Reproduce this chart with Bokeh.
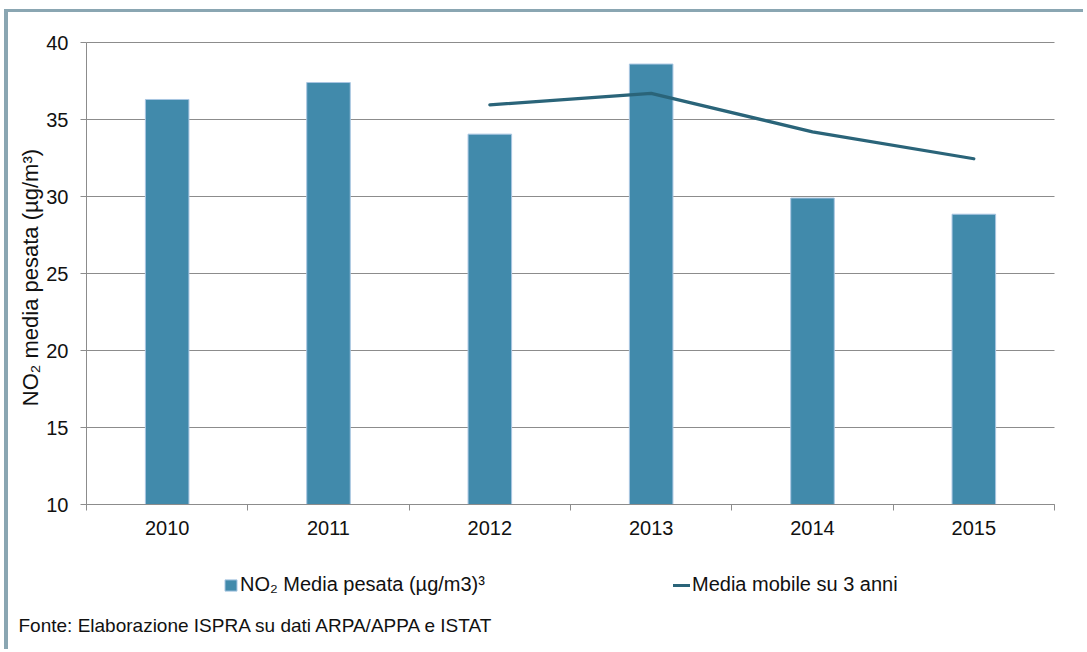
import math
from bokeh.plotting import figure
from bokeh.models import Range1d, FixedTicker, Legend, LegendItem, Label
from bokeh.embed import file_html
from bokeh.resources import INLINE

# ---- data ----
years = ["2010", "2011", "2012", "2013", "2014", "2015"]
no2_media = [36.3, 37.4, 34.05, 38.6, 29.9, 28.85]
media_mobile = [None, None, 35.95, 36.7, 34.2, 32.45]
y_ticks = [10, 15, 20, 25, 30, 35, 40]

bar_label = "NO\u2082 Media pesata (\u00b5g/m3)\u00b3"
line_label = "Media mobile su 3 anni"
y_label = "NO\u2082 media pesata  (\u00b5g/m\u00b3)"
footer = "Fonte: Elaborazione ISPRA su dati ARPA/APPA e ISTAT"

# ---- layout (canvas pixels) ----
W, H = 1079, 640
PL, PR, PT, PB = 78, 1046, 30, 492       # plot area edges on the canvas

n = len(years)
y0, y1 = y_ticks[0], y_ticks[-1]
xs = (PR - PL) / n
ys = (PB - PT) / (y1 - y0)
x_range = Range1d(-PL / xs, n + (W - PR) / xs)
y_range = Range1d(y0 - (H - PB) / ys, y1 + PT / ys)

centers = [i + 0.5 for i in range(n)]
bounds = list(range(n + 1))
line_x = [c for c, v in zip(centers, media_mobile) if v is not None]
line_y = [v for v in media_mobile if v is not None]

FONT = "Liberation Sans"
GRID = "#8c8c8c"
BORDER = "#8aa6b2"
TXT = "#111111"

p = figure(width=W, height=H, output_backend="svg", toolbar_location=None,
           x_range=x_range, y_range=y_range,
           min_border_left=0, min_border_right=0, min_border_top=0,
           min_border_bottom=0)
p.styles = {"margin-top": "9px", "margin-left": "4px",
            "border-top": f"3px solid {BORDER}",
            "border-left": f"4px solid {BORDER}"}
p.outline_line_color = None
p.background_fill_color = "white"
p.border_fill_color = "white"

r_bar = p.vbar(x=centers, top=no2_media, bottom=y0, width=0.27,
               fill_color="#418aab", line_color="#a9c6e2", line_width=1)
r_line = p.line(x=line_x, y=line_y, line_color="#2a6479", line_width=3.2,
                line_join="round", line_cap="round")

# x axis
xa = p.xaxis[0]
xa.fixed_location = y0
xa.bounds = (0, n)
xa.ticker = FixedTicker(ticks=centers, minor_ticks=bounds)
xa.major_label_overrides = {c: y for c, y in zip(centers, years)}
xa.major_tick_in = 0
xa.major_tick_out = 0
xa.minor_tick_in = 0
xa.minor_tick_out = 6
xa.minor_tick_line_color = GRID
xa.axis_line_color = GRID
xa.major_label_text_font = FONT
xa.major_label_text_font_size = "20px"
xa.major_label_text_color = TXT
xa.major_label_standoff = 10

# y axis
ya = p.yaxis[0]
ya.fixed_location = 0
ya.bounds = (y0, y1)
ya.ticker = FixedTicker(ticks=y_ticks)
ya.major_tick_in = 0
ya.major_tick_out = 6
ya.major_tick_line_color = GRID
ya.minor_tick_line_color = None
ya.axis_line_color = GRID
ya.major_label_text_font = FONT
ya.major_label_text_font_size = "20px"
ya.major_label_text_color = TXT
ya.major_label_standoff = 12

# y-axis title, placed as in the reference
p.add_layout(Label(x=22, y=H - 262, x_units="screen", y_units="screen", text=y_label,
                   angle=math.pi / 2, text_align="center", text_baseline="middle",
                   text_font=FONT, text_font_size="22px", text_color=TXT))

p.xgrid.visible = False
p.ygrid.ticker = FixedTicker(ticks=y_ticks)
p.ygrid.grid_line_color = GRID
p.ygrid.grid_line_width = 1
p.ygrid.cross_bounds = (0, n)

# legends (inside the canvas, below the plot area)
common = dict(orientation="horizontal", padding=0, margin=0, border_line_color=None,
              background_fill_alpha=0, glyph_height=14, label_height=14,
              label_standoff=2, label_text_font=FONT, label_text_font_size="20px",
              label_text_color=TXT)
leg1 = Legend(items=[LegendItem(label=bar_label, renderers=[r_bar])],
              location=(215, H - 584), glyph_width=15, **common)
leg2 = Legend(items=[LegendItem(label=line_label, renderers=[r_line])],
              location=(665, H - 584), glyph_width=17, **common)
p.add_layout(leg1)
p.add_layout(leg2)

# footer
p.add_layout(Label(x=10, y=H - 613, x_units="screen", y_units="screen", text=footer,
                   text_font=FONT, text_font_size="19px",
                   text_baseline="middle", text_color=TXT))

open("out.html", "w").write(file_html(p, INLINE))
